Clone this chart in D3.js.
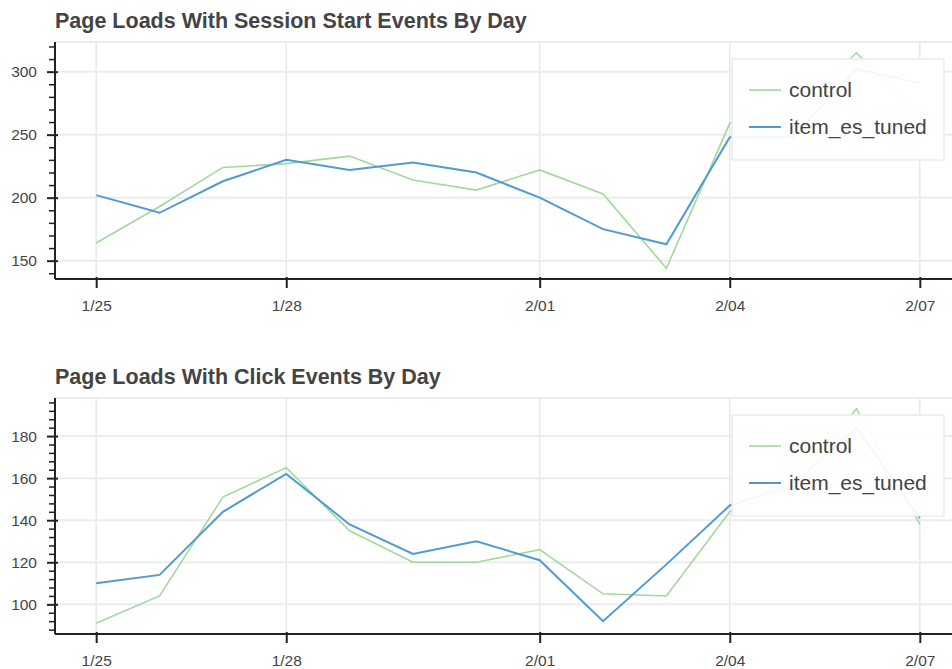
<!DOCTYPE html>
<meta charset="utf-8">
<style>
body { margin: 0; background: #fff; }
text { font-family: "Liberation Sans", Arial, Helvetica, sans-serif; }
.title { font-size: 21.5px; font-weight: bold; fill: #444; }
.tick text { font-size: 15.5px; fill: #444; }
.legend text { font-size: 21px; fill: #444; }
</style>
<svg width="952" height="669"></svg>
<script src="https://d3js.org/d3.v7.min.js"></script>
<script>

// data
var days = ["2017-01-25","2017-01-26","2017-01-27","2017-01-28","2017-01-29","2017-01-30","2017-01-31",
            "2017-02-01","2017-02-02","2017-02-03","2017-02-04","2017-02-05","2017-02-06","2017-02-07"];
var dateTicks = ["2017-01-25","2017-01-28","2017-02-01","2017-02-04","2017-02-07"];

var sessionControl = [164, 193, 224, 227, 233, 214, 206, 222, 203, 144, 259, 268, 315, 263];
var sessionTuned   = [202, 188, 213, 230, 222, 228, 220, 200, 175, 163, 248, 248, 302, 291];
var sessionTicks   = [150, 200, 250, 300];

var clickControl = [91, 104, 151, 165, 135, 120, 120, 126, 105, 104, 144, 155, 193, 138];
var clickTuned   = [110, 114, 144, 162, 138, 124, 130, 121, 92, 119, 147, 157, 184, 141];
var clickTicks   = [100, 120, 140, 160, 180];

var seriesNames = ["control", "item_es_tuned"];
var colors = {control: "#a1d99b", item_es_tuned: "#4f9bd2"};
var widths = {control: 1.6, item_es_tuned: 2};

var parse = d3.timeParse("%Y-%m-%d");
var dates = days.map(parse);

var svg = d3.select("svg");

var left = 55, right = 961;   // plot runs a bit past the window, like the original

function panel(top, bottom, title, controlVals, tunedVals, majors, minorStep) {
  var g = svg.append("g");

  // bokeh style 5% padding each side
  var xExt = d3.extent(dates), xPad = (xExt[1] - xExt[0]) * 0.05;
  var x = d3.scaleTime()
    .domain([new Date(+xExt[0] - xPad), new Date(+xExt[1] + xPad)])
    .range([left, right]);

  var all = controlVals.concat(tunedVals);
  var lo = d3.min(all), hi = d3.max(all), yPad = (hi - lo) * 0.05;
  var y = d3.scaleLinear().domain([lo - yPad, hi + yPad]).range([bottom, top]);

  var tickDates = dateTicks.map(parse);

  // outline
  g.append("rect")
    .attr("x", left).attr("y", top)
    .attr("width", right - left).attr("height", bottom - top)
    .attr("fill", "none").attr("stroke", "#e8e8e8").attr("stroke-width", 1.5);

  // grid
  g.selectAll(".vg").data(tickDates).enter().append("line")
    .attr("x1", function(d) { return x(d); }).attr("x2", function(d) { return x(d); })
    .attr("y1", top).attr("y2", bottom)
    .attr("stroke", "#e8e8e8").attr("stroke-width", 1.5);
  g.selectAll(".hg").data(majors).enter().append("line")
    .attr("x1", left).attr("x2", right)
    .attr("y1", function(d) { return y(d); }).attr("y2", function(d) { return y(d); })
    .attr("stroke", "#ececec").attr("stroke-width", 2);

  // lines
  var line = d3.line()
    .x(function(d, i) { return x(dates[i]); })
    .y(function(d) { return y(d); });
  var series = [["control", controlVals], ["item_es_tuned", tunedVals]];
  series.forEach(function(s) {
    g.append("path")
      .datum(s[1])
      .attr("fill", "none")
      .attr("stroke", colors[s[0]])
      .attr("stroke-width", widths[s[0]])
      .attr("d", line);
  });

  // minor y ticks
  var dom = y.domain();
  var minors = d3.range(Math.ceil(dom[0] / minorStep) * minorStep, dom[1], minorStep)
    .filter(function(v) { return majors.indexOf(v) < 0; });
  g.append("g")
    .attr("transform", "translate(" + left + ",0)")
    .call(d3.axisLeft(y).tickValues(minors).tickFormat("").tickSize(6))
    .call(function(a) {
      a.select(".domain").remove();
      a.selectAll(".tick line").attr("stroke", "#222").attr("stroke-width", 1.5);
    });

  // major y axis
  g.append("g")
    .attr("transform", "translate(" + left + ",0)")
    .call(d3.axisLeft(y).tickValues(majors).tickSize(8).tickPadding(10))
    .call(function(a) {
      a.select(".domain").attr("d", "M0," + top + "V" + bottom).attr("stroke", "#222").attr("stroke-width", 2);
      a.selectAll(".tick line").attr("x1", 3).attr("stroke", "#222").attr("stroke-width", 2);
      a.selectAll(".tick text").attr("font-family", null).attr("font-size", null);
    });

  // x axis
  g.append("g")
    .attr("transform", "translate(0," + bottom + ")")
    .call(d3.axisBottom(x).tickValues(tickDates).tickFormat(d3.timeFormat("%-m/%d")).tickSize(9).tickPadding(12))
    .call(function(a) {
      a.select(".domain").attr("d", "M" + left + ",0H" + right).attr("stroke", "#222").attr("stroke-width", 2);
      a.selectAll(".tick line").attr("y1", -2).attr("stroke", "#222").attr("stroke-width", 2);
      a.selectAll(".tick text").attr("font-family", null).attr("font-size", null);
    });

  // title
  svg.append("text")
    .attr("class", "title")
    .attr("x", left).attr("y", top - 14)
    .text(title);

  // legend
  var lg = g.append("g").attr("class", "legend")
    .attr("transform", "translate(732," + (top + 17) + ")");
  lg.append("rect")
    .attr("width", 212).attr("height", 101)
    .attr("fill", "#fff").attr("fill-opacity", 0.93)
    .attr("stroke", "#ececec").attr("stroke-width", 1.5);
  seriesNames.forEach(function(name, i) {
    var yy = 31 + i * 37;
    lg.append("line")
      .attr("x1", 17).attr("x2", 49).attr("y1", yy).attr("y2", yy)
      .attr("stroke", colors[name]).attr("stroke-width", widths[name]);
    lg.append("text")
      .attr("x", 57).attr("y", yy + 7)
      .text(name);
  });
}

panel(42, 279, "Page Loads With Session Start Events By Day", sessionControl, sessionTuned, sessionTicks, 10);
panel(398, 634, "Page Loads With Click Events By Day", clickControl, clickTuned, clickTicks, 4);

</script>
